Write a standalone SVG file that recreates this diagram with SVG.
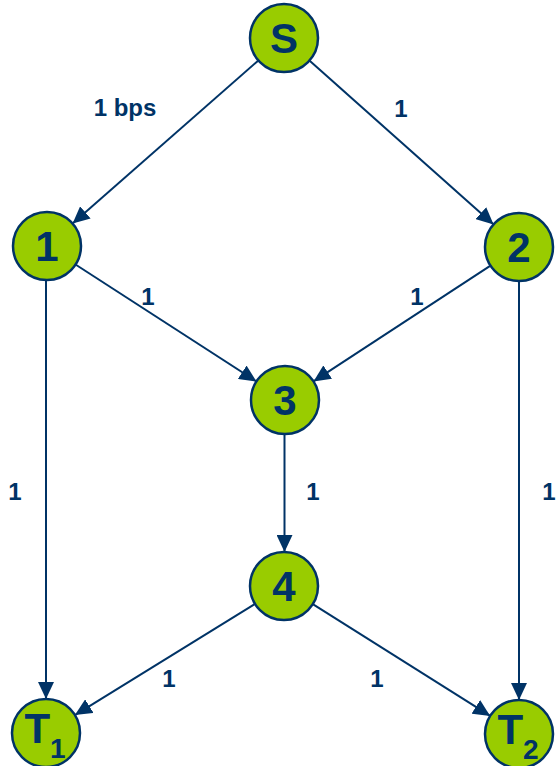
<svg xmlns="http://www.w3.org/2000/svg" width="557" height="766" viewBox="0 0 557 766">
  <style>
    .node circle { fill: #99cc00; stroke: #003366; stroke-width: 2.5; }
    .node text { fill: #003366; font-family: "Liberation Sans", Arial, sans-serif; font-weight: bold; font-size: 42px; text-anchor: middle; }
    .edge { stroke: #003366; stroke-width: 2; fill: none; marker-end: url(#arrow); }
    .lbl { fill: #003366; font-family: "Liberation Sans", Arial, sans-serif; font-weight: bold; font-size: 24px; text-anchor: middle; }
  </style>
  <defs>
    <marker id="arrow" markerUnits="userSpaceOnUse" markerWidth="18" markerHeight="16" refX="17" refY="8" orient="auto">
      <path d="M0,0 L17,8 L0,16 Z" fill="#003366"/>
    </marker>
  </defs>
  <rect width="557" height="766" fill="#ffffff"/>

  <!-- connectors -->
  <g id="edges">
    <line class="edge" x1="258.4" y1="60.4" x2="72.6" y2="223.6"/>
    <line class="edge" x1="309.4" y1="60.6" x2="493.6" y2="224.4"/>
    <line class="edge" x1="75.5" y1="264.5" x2="256.5" y2="381.5"/>
    <line class="edge" x1="490.5" y1="265.6" x2="313.5" y2="381.4"/>
    <line class="edge" x1="46" y1="280" x2="46" y2="699"/>
    <line class="edge" x1="519" y1="281" x2="519" y2="700"/>
    <line class="edge" x1="284.5" y1="434" x2="284.5" y2="552"/>
    <line class="edge" x1="255.1" y1="603.9" x2="74.9" y2="715.1"/>
    <line class="edge" x1="312.8" y1="604.1" x2="490.2" y2="715.9"/>
  </g>

  <!-- capacities -->
  <g id="labels">
    <text class="lbl" x="125" y="116">1 bps</text>
    <text class="lbl" x="401" y="117">1</text>
    <text class="lbl" x="148" y="305">1</text>
    <text class="lbl" x="417" y="305">1</text>
    <text class="lbl" x="15" y="500">1</text>
    <text class="lbl" x="313" y="500">1</text>
    <text class="lbl" x="549" y="500">1</text>
    <text class="lbl" x="169" y="687">1</text>
    <text class="lbl" x="377" y="687">1</text>
  </g>

  <!-- nodes -->
  <g id="node-S" class="node">
    <circle cx="284" cy="38" r="34"/>
    <text x="284" y="53">S</text>
  </g>
  <g id="node-1" class="node">
    <circle cx="47" cy="246" r="34"/>
    <text x="47" y="261">1</text>
  </g>
  <g id="node-2" class="node">
    <circle cx="519" cy="247" r="34"/>
    <text x="519" y="262">2</text>
  </g>
  <g id="node-3" class="node">
    <circle cx="285" cy="400" r="34"/>
    <text x="285" y="415">3</text>
  </g>
  <g id="node-4" class="node">
    <circle cx="284" cy="586" r="34"/>
    <text x="284" y="601">4</text>
  </g>
  <g id="node-T1" class="node">
    <circle cx="46" cy="733" r="34"/>
    <text x="45" y="743">T<tspan font-size="28" dy="15">1</tspan></text>
  </g>
  <g id="node-T2" class="node">
    <circle cx="519" cy="734" r="34"/>
    <text x="518" y="744">T<tspan font-size="28" dy="15">2</tspan></text>
  </g>
</svg>
